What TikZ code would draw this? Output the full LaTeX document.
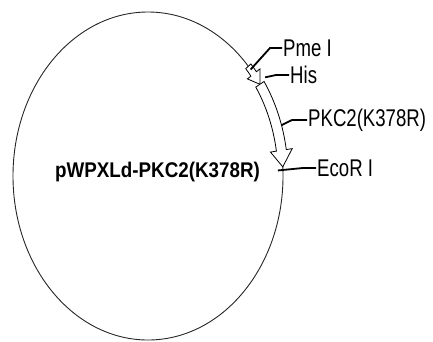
\documentclass[tikz,border=0pt]{standalone}
\usepackage{fontspec}
\setmainfont{Liberation Sans}
\usepackage{graphicx}
\usetikzlibrary{calc}
\begin{document}
\begin{tikzpicture}[x=1pt,y=1pt,
    backbone/.style={line width=0.9pt,black!85},
    feature/.style={line width=0.8pt,fill=white,line join=miter},
    leader/.style={line width=1.8pt,black},
    lbl/.style={inner sep=1pt,anchor=west,font=\fontsize{18.6}{18.6}\selectfont}]
      \useasboundingbox (0,0) rectangle (433,-341);
      \coordinate (c) at (148,-176);
      % plasmid backbone
      \draw[backbone] (c) ellipse[x radius=135, y radius=164];
      \node[inner sep=0,font=\fontsize{18.8}{18.8}\selectfont\bfseries] (name) at (157.5,-172.5) {\scalebox{1}[1.13]{pWPXLd-PKC2(K378R)}};
      % His tag
      \draw[feature] ($(c)+(42:138.5 and 167.5)$) arc[start angle=42, end angle=38.5, x radius=138.5, y radius=167.5]
        -- ($(c)+(38.5:143 and 172)$) -- ($(c)+(34:135 and 164)$) -- ($(c)+(38.5:127 and 156)$)
        -- ($(c)+(38.5:131.5 and 160.5)$) arc[start angle=38.5, end angle=42, x radius=131.5, y radius=160.5] -- cycle;
      % PKC2(K378R) gene
      \draw[feature] ($(c)+(34:140 and 169)$) arc[start angle=34, end angle=9, x radius=140, y radius=169]
        -- ($(c)+(9:146 and 175)$) -- ($(c)+(3.2:135 and 164)$) -- ($(c)+(9:124 and 153)$)
        -- ($(c)+(9:130 and 159)$) arc[start angle=9, end angle=34, x radius=130, y radius=159] -- cycle;
      % sites
      \coordinate (pme) at ($(c)+(40.5:135 and 164)$);
      \coordinate (his) at ($(c)+(35:143 and 172)$);
      \coordinate (pkc) at ($(c)+(17.5:140 and 169)$);
      \coordinate (ecor) at ($(c)+(2:130 and 159)$);
      % labels
      \node[lbl] (pmelbl) at (282,-48) {\scalebox{1}[1.3]{Pme I}};
      \node[lbl] (hislbl) at (289,-75) {\scalebox{1}[1.3]{His}};
      \node[lbl] (pkclbl) at (307,-120) {\scalebox{1}[1.3]{PKC2(K378R)}};
      \node[lbl] (ecorlbl) at (316,-168) {\scalebox{1}[1.3]{EcoR I}};
      % leaders
      \coordinate (pmeknee) at (270,-48);
      \coordinate (hisknee) at (276,-75);
      \coordinate (pkcknee) at (292,-120);
      \coordinate (ecorknee) at (303,-168);
      \draw[leader] (pme) -- (pmeknee) -- (pmelbl.west);
      \draw[leader] (his) -- (hisknee) -- (hislbl.west);
      \draw[leader] (pkc) -- (pkcknee) -- (pkclbl.west);
      \draw[leader] (ecor) -- (ecorknee) -- (ecorlbl.west);
    \end{tikzpicture}
\end{document}
